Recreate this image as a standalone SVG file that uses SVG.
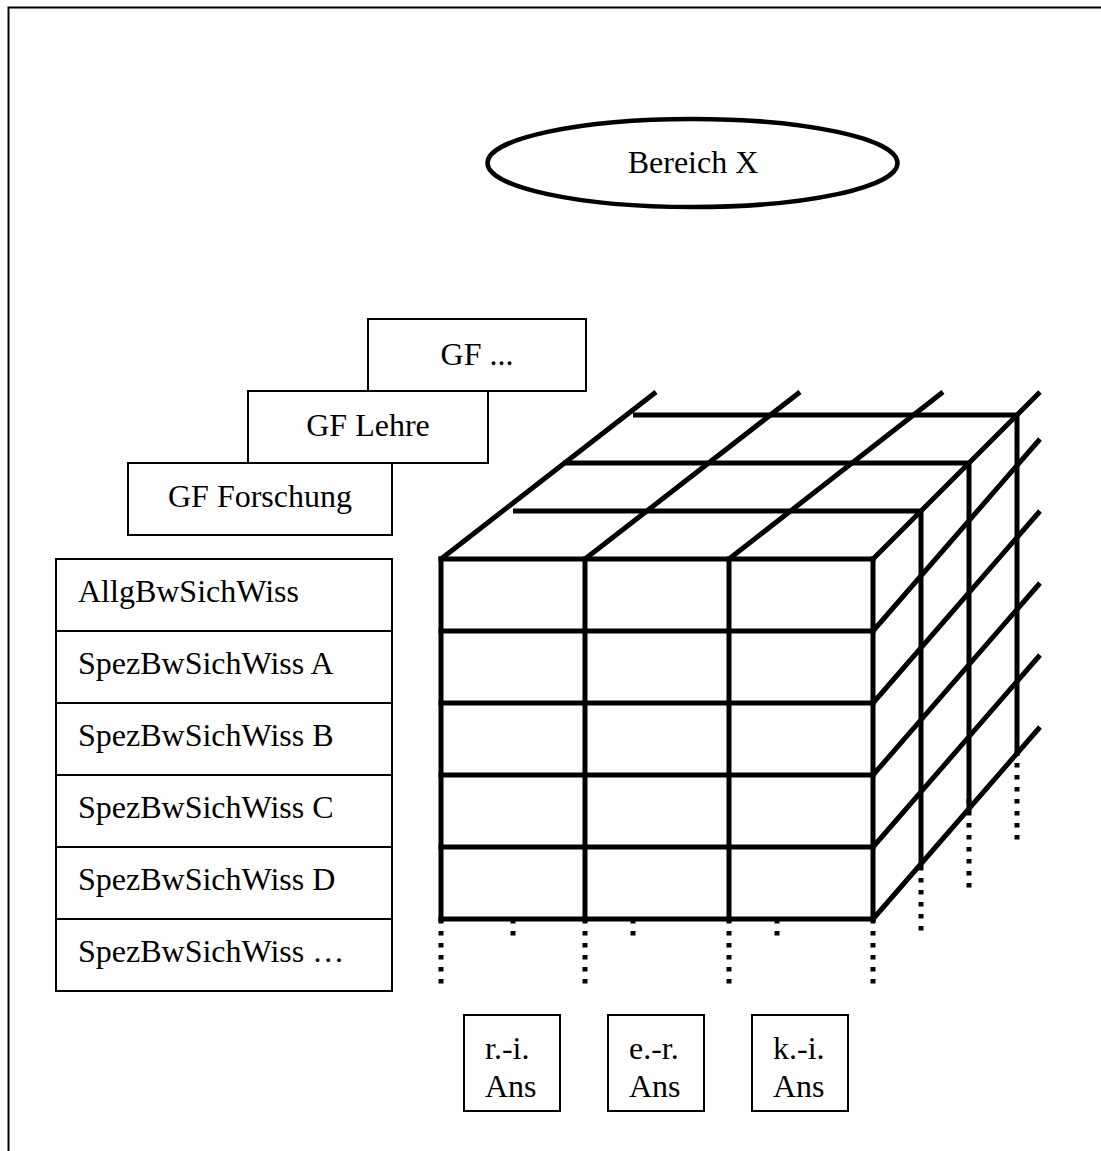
<svg xmlns="http://www.w3.org/2000/svg" width="1101" height="1151" viewBox="0 0 1101 1151">
<style>
  .box { fill: #fff; stroke: #000; stroke-width: 2; }
  .t { font-family: "Liberation Serif", "Times New Roman", serif; font-size: 32px; fill: #000; }
  .c { text-anchor: middle; }
  .thick { stroke: #000; stroke-width: 5; fill: none; stroke-linecap: butt; }
  .front { stroke: #000; stroke-width: 5; fill: none; stroke-linecap: square; }
  .dot { stroke: #000; stroke-width: 5; fill: none; stroke-dasharray: 4.5 7.5; }
</style>
<rect x="0" y="0" width="1101" height="1151" fill="#fff"/>
<path d="M8.5,1151 V7.5 H1101" fill="none" stroke="#000" stroke-width="2"/>

<g id="bereich-x">
  <ellipse cx="692.5" cy="163" rx="205" ry="44" fill="#fff" stroke="#000" stroke-width="4.5"/>
  <text class="t c" x="693" y="173">Bereich X</text>
</g>

<g id="gf-dots">
  <rect class="box" x="368" y="319" width="218" height="72"/>
  <text class="t c" x="477" y="365">GF ...</text>
</g>
<g id="gf-lehre">
  <rect class="box" x="248" y="391" width="240" height="72"/>
  <text class="t c" x="368" y="436">GF Lehre</text>
</g>
<g id="gf-forschung">
  <rect class="box" x="128" y="463" width="264" height="72"/>
  <text class="t c" x="260" y="507">GF Forschung</text>
</g>

<g id="row-allg">
  <rect class="box" x="56" y="559" width="336" height="72"/>
  <text class="t" x="78" y="602">AllgBwSichWiss</text>
</g>
<g id="row-a">
  <rect class="box" x="56" y="631" width="336" height="72"/>
  <text class="t" x="78" y="674">SpezBwSichWiss A</text>
</g>
<g id="row-b">
  <rect class="box" x="56" y="703" width="336" height="72"/>
  <text class="t" x="78" y="746">SpezBwSichWiss B</text>
</g>
<g id="row-c">
  <rect class="box" x="56" y="775" width="336" height="72"/>
  <text class="t" x="78" y="818">SpezBwSichWiss C</text>
</g>
<g id="row-d">
  <rect class="box" x="56" y="847" width="336" height="72"/>
  <text class="t" x="78" y="890">SpezBwSichWiss D</text>
</g>
<g id="row-more">
  <rect class="box" x="56" y="919" width="336" height="72"/>
  <text class="t" x="78" y="962">SpezBwSichWiss …</text>
</g>

<g id="cube">
  <g id="cube-front">
    <path class="front" d="M441,559 V919 M585,559 V919 M729,559 V919 M873,559 V919"/>
    <path class="front" d="M441,559 H873 M441,631 H873 M441,703 H873 M441,775 H873 M441,847 H873 M441,919 H873"/>
  </g>
  <g id="cube-top">
    <path class="thick" d="M513,511 H921 M563,463 H969 M633,415 H1017"/>
    <path class="thick" d="M441,559 L656,392 M585,559 L800,392 M729,559 L943,392 M873,559 L1040,392"/>
  </g>
  <g id="cube-side">
    <path class="thick" d="M921,511 V866 M969,463 V811 M1017,415 V756"/>
    <path class="thick" d="M873,631 L1040,439 M873,703 L1040,511 M873,775 L1040,583 M873,847 L1040,655 M873,919 L1040,727"/>
  </g>
  <g id="cube-dotted">
    <path class="dot" d="M441,919 V985 M585,919 V985 M729,919 V985 M873,919 V985"/>
    <path class="dot" d="M513,919 V937 M633,919 V937 M777,919 V937"/>
    <path class="dot" d="M921,866 V938 M969,799 V889 M1017,751 V841"/>
  </g>
</g>

<g id="ans-ri">
  <rect class="box" x="464" y="1015" width="96" height="96"/>
  <text class="t" x="485" y="1059">r.-i.</text>
  <text class="t" x="485" y="1097">Ans</text>
</g>
<g id="ans-er">
  <rect class="box" x="608" y="1015" width="96" height="96"/>
  <text class="t" x="629" y="1059">e.-r.</text>
  <text class="t" x="629" y="1097">Ans</text>
</g>
<g id="ans-ki">
  <rect class="box" x="752" y="1015" width="96" height="96"/>
  <text class="t" x="773" y="1059">k.-i.</text>
  <text class="t" x="773" y="1097">Ans</text>
</g>
</svg>
